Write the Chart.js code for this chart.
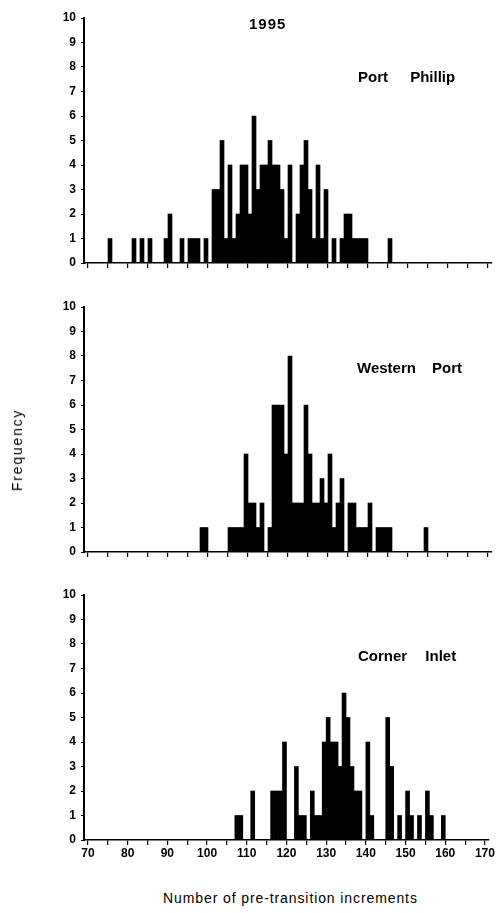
<!DOCTYPE html>
<html lang="en">
<head>
  <meta charset="UTF-8" />
  <title>Pre-transition increments 1995</title>
  <style>
    body {
      margin: 0;
      background: #fff;
      font-family: 'Liberation Sans', Arial, sans-serif;
      color: #000;
    }
    #page {
      position: relative;
      width: 498px;
      height: 913px;
      overflow: hidden;
    }
    canvas {
      position: absolute;
      left: 0;
    }
    .txt {
      position: absolute;
      white-space: nowrap;
      line-height: 1;
    }
    .site {
      font-size: 15px;
      font-weight: bold;
    }
  </style>
</head>
<body>
  <div id="page">
    <canvas id="c1" width="498" height="288" style="top:0px"></canvas>
    <canvas id="c2" width="498" height="288" style="top:289px"></canvas>
    <canvas id="c3" width="498" height="288" style="top:577px"></canvas>

    <div class="txt" style="left:249px; top:16px; font-size:15px; font-weight:bold; letter-spacing:1px;">1995</div>
    <div class="txt site" style="left:358px; top:69px; word-spacing:18px;">Port Phillip</div>
    <div class="txt site" style="left:357px; top:360px; word-spacing:12px;">Western Port</div>
    <div class="txt site" style="left:358px; top:648px; word-spacing:14px;">Corner Inlet</div>

    <div class="txt" style="left:17px; top:450px; font-size:14px; letter-spacing:1.8px; transform:translate(-50%,-50%) rotate(-90deg);">Frequency</div>
    <div class="txt" style="left:163px; top:891px; font-size:14px; letter-spacing:0.9px;">Number of pre-transition increments</div>
  </div>

  <script src="https://cdn.jsdelivr.net/npm/chart.js"></script>
  <script>
    // bins: each bar covers [v, v+1); axis runs from 69 to 171
    const xBins = [];
    for (let v = 69; v <= 170; v++) xBins.push(v);
    const yTicks = [0, 1, 2, 3, 4, 5, 6, 7, 8, 9, 10];

    // Port Phillip
    const ppIncrements = [75, 81, 83, 85, 89, 90, 93, 95, 96, 97, 99, 101, 102, 103, 104, 105, 106, 107, 108, 109,
      110, 111, 112, 113, 114, 115, 116, 117, 118, 119, 120, 122, 123, 124, 125, 126, 127, 128, 129, 131,
      133, 134, 135, 136, 137, 138, 139, 145];
    const ppFreq = [1, 1, 1, 1, 1, 2, 1, 1, 1, 1, 1, 3, 3, 5, 1, 4, 1, 2, 4, 4,
      2, 6, 3, 4, 4, 5, 4, 4, 3, 1, 4, 2, 4, 5, 3, 1, 4, 1, 3, 1,
      1, 2, 2, 1, 1, 1, 1, 1];

    // Western Port
    const wpIncrements = [98, 99, 105, 106, 107, 108, 109, 110, 111, 112, 113, 115, 116, 117, 118, 119, 120, 121, 122, 123,
      124, 125, 126, 127, 128, 129, 130, 131, 132, 133, 135, 136, 137, 138, 139, 140, 142, 143, 144, 145, 154];
    const wpFreq = [1, 1, 1, 1, 1, 1, 4, 2, 2, 1, 2, 1, 6, 6, 6, 4, 8, 2, 2, 2,
      6, 4, 2, 2, 3, 2, 4, 1, 2, 3, 2, 2, 1, 1, 1, 2, 1, 1, 1, 1, 1];

    // Corner Inlet
    const ciIncrements = [107, 108, 111, 116, 117, 118, 119, 122, 123, 124, 126, 127, 128, 129, 130, 131, 132, 133, 134, 135,
      136, 137, 138, 140, 141, 145, 146, 148, 150, 151, 153, 155, 156, 159];
    const ciFreq = [1, 1, 2, 2, 2, 2, 4, 3, 1, 1, 2, 1, 1, 4, 5, 4, 4, 3, 6, 5,
      3, 2, 2, 4, 1, 5, 3, 1, 2, 1, 1, 2, 1, 1];

    const FONT = "'Liberation Sans', Arial, sans-serif";

    // bin edge value for grid line i (the extra last line closes the axis)
    const edgeValue = (i) => (i < xBins.length ? xBins[i] : xBins[xBins.length - 1] + 1);

    function makePanel(id, increments, freq, showLabels) {
      const points = increments.map((v, i) => ({ x: v, y: freq[i] }));
      return new Chart(document.getElementById(id), {
        type: 'bar',
        data: {
          labels: xBins,
          datasets: [{
            data: points,
            backgroundColor: '#000',
            borderWidth: 0,
            barPercentage: 1,
            categoryPercentage: 1
          }]
        },
        options: {
          responsive: false,
          animation: false,
          events: [],
          layout: { autoPadding: false, padding: { top: 18, right: 6, bottom: 0, left: 0 } },
          plugins: { legend: { display: false }, tooltip: { enabled: false } },
          scales: {
            x: {
              type: 'category',
              offset: true,
              afterFit: (scale) => { scale.height = 25; },
              border: { color: '#000', width: 1.5 },
              grid: {
                offset: true,
                drawOnChartArea: false,
                tickLength: 5,
                lineWidth: 1.2,
                color: (ctx) => edgeValue(ctx.index) % 5 === 0 ? '#000' : 'rgba(0,0,0,0)'
              },
              ticks: {
                autoSkip: false,
                maxRotation: 0,
                minRotation: 0,
                padding: 1,
                labelOffset: -2,
                color: '#000',
                font: { family: FONT, size: 12, weight: 'bold' },
                callback: (val, i) => (showLabels && xBins[i] % 10 === 0) ? String(xBins[i]) : ''
              }
            },
            y: {
              min: 0,
              max: 10,
              afterBuildTicks: (scale) => { scale.ticks = yTicks.map(v => ({ value: v })); },
              afterFit: (scale) => { scale.width = 84; },
              border: { color: '#000', width: 2 },
              grid: { drawOnChartArea: false, color: '#000', tickLength: 3, lineWidth: 1 },
              ticks: {
                padding: 5,
                color: '#000',
                font: { family: FONT, size: 12, weight: 'bold' }
              }
            }
          }
        }
      });
    }

    makePanel('c1', ppIncrements, ppFreq, false);
    makePanel('c2', wpIncrements, wpFreq, false);
    makePanel('c3', ciIncrements, ciFreq, true);
  </script>
</body>
</html>
